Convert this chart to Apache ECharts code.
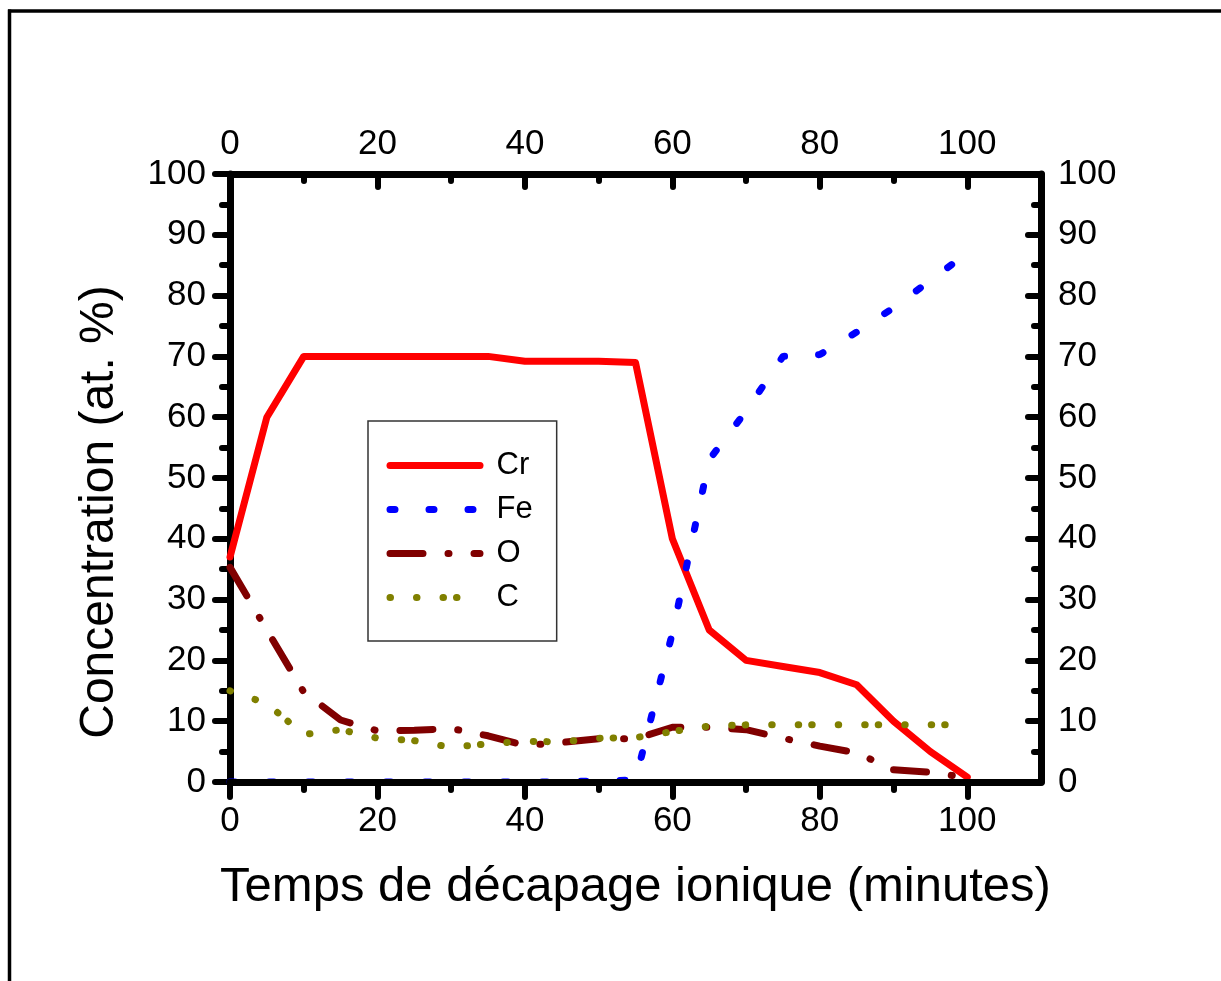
<!DOCTYPE html>
<html>
<head>
<meta charset="utf-8">
<title>Concentration vs temps de décapage</title>
<script src="https://cdn.jsdelivr.net/npm/echarts@6/dist/echarts.min.js"></script>
<style>
  html, body { margin: 0; padding: 0; background: #fff; }
  #chart { width: 1221px; height: 981px; }
</style>
</head>
<body>
<div id="chart"></div>
<script>
// Sputtering time (minutes), sampled every 5 min
const minutes = [0, 5, 10, 15, 20, 25, 30, 35, 40, 45, 50, 55, 60, 65, 70, 75, 80, 85, 90, 95, 100];

// Atomic concentrations (at. %)
const cr = [37, 60, 70, 70, 70, 70, 70, 70, 69.2, 69.2, 69.2, 69, 40, 25, 20, 19, 18, 16, 10, 5, 0.8];
const fe = [0, 0, 0, 0, 0, 0, 0, 0, 0, 0, 0.2, 0.3, 24.5, 53, 61, 70, 70.3, 74, 78, 82.5, 87];
const ox = [35.3, 25, 14.8, 10.2, 8.4, 8.5, 8.8, 7.6, 6.0, 6.5, 7.1, 7.1, 9, 9, 8.6, 7.2, 5.9, 4.8, 2, 1.6, 0.7];
const cc = [15, 12.9, 7.8, 8.6, 7.2, 6.8, 5.7, 6.3, 6.7, 6.6, 7.2, 7.3, 8.3, 9.2, 9.4, 9.4, 9.4, 9.4, 9.4, 9.4, 9.4];

const seriesNames = ['Cr', 'Fe', 'O', 'C'];

// Axis tick positions and labels
const xMajorTicks = [0, 20, 40, 60, 80, 100];
const xMinorTicks = [10, 30, 50, 70, 90];

const FONT = '"Liberation Sans", Arial, Helvetica, sans-serif';
const pairs = vals => minutes.map((m, i) => [m, vals[i]]);

const chart = echarts.init(document.getElementById('chart'), null, { renderer: 'canvas' });

const axisLine = { show: true, onZero: false, lineStyle: { color: '#000', width: 7, cap: 'round' } };
const tickStyle = { color: '#000', width: 6, cap: 'round' };
const labelStyle = { color: '#000', fontSize: 35, fontFamily: FONT };

// x axes sit above the series, y axes below
function xAxisMajor(position, inside, len, margin, extra) {
  return Object.assign({
    type: 'value', position, min: 0, max: 110, interval: 20, z: 5,
    axisLine,
    axisTick: { show: true, inside, length: len, lineStyle: tickStyle, customValues: xMajorTicks },
    axisLabel: Object.assign({ margin, customValues: xMajorTicks }, labelStyle),
    minorTick: { show: false },
    splitLine: { show: false }
  }, extra || {});
}
function xAxisMinor(position, inside, len) {
  return {
    type: 'value', position, min: 0, max: 110, interval: 20, z: 5,
    axisLine: { show: false, onZero: false },
    axisTick: { show: true, inside, length: len, lineStyle: tickStyle, customValues: xMinorTicks },
    axisLabel: { show: false },
    splitLine: { show: false }
  };
}
function yAxisDef(position, inside, len, minorLen, margin, extra) {
  return Object.assign({
    type: 'value', position, min: 0, max: 100, interval: 10, z: 1,
    axisLine,
    axisTick: { show: true, inside, length: len, lineStyle: tickStyle },
    minorTick: { show: true, splitNumber: 2, length: minorLen, lineStyle: tickStyle },
    axisLabel: Object.assign({ margin }, labelStyle),
    splitLine: { show: false }
  }, extra || {});
}

function lineSeries(name, vals, color, dash) {
  return {
    name, type: 'line', xAxisIndex: 0, yAxisIndex: 0,
    data: pairs(vals), symbol: 'none', silent: true, z: 2,
    lineStyle: { color, width: 7, type: dash, cap: 'round', join: 'round' },
    itemStyle: { color }
  };
}

chart.setOption({
  animation: false,
  backgroundColor: '#fff',
  grid: { left: 230, right: 180, top: 174, bottom: 199, containLabel: false },
  xAxis: [
    xAxisMajor('bottom', false, 15, 22, {
      name: 'Temps de décapage ionique (minutes)',
      nameLocation: 'middle', nameGap: 81,
      nameTextStyle: { color: '#000', fontSize: 49, fontFamily: FONT }
    }),
    xAxisMinor('bottom', false, 8),
    xAxisMajor('top', true, 13, 12),
    xAxisMinor('top', true, 7)
  ],
  yAxis: [
    yAxisDef('left', false, 15, 8, 24, {
      name: 'Concentration (at. %)',
      nameLocation: 'middle', nameGap: 106,
      nameTextStyle: { color: '#000', fontSize: 48, fontFamily: FONT, padding: [0, 68, 0, 0] }
    }),
    yAxisDef('right', true, 13, 7, 17)
  ],
  legend: {
    data: seriesNames,
    orient: 'vertical',
    left: 368, top: 421,
    padding: [29, 24, 28, 18.5],
    itemWidth: 90, itemHeight: 14, itemGap: 13,
    borderColor: '#333', borderWidth: 1.5, borderRadius: 0,
    backgroundColor: '#fff',
    selectedMode: false,
    itemStyle: { opacity: 0 },
    lineStyle: { width: 7 },
    textStyle: { color: '#000', fontSize: 31, lineHeight: 30, fontFamily: FONT, padding: [0, 0, 0, 11.5] }
  },
  series: [
    lineSeries('Cr', cr, '#ff0000', 'solid'),
    lineSeries('Fe', fe, '#0000ff', [5, 34]),
    lineSeries('O', ox, '#800000', [33, 25, 1, 25]),
    lineSeries('C', cc, '#808000', [0.5, 26, 0.5, 26, 0.5, 13])
  ],
  graphic: [
    { type: 'line', silent: true, shape: { x1: 9.5, y1: 9.5, x2: 9.5, y2: 990 }, style: { stroke: '#000', lineWidth: 3.5 } },
    { type: 'line', silent: true, shape: { x1: 8, y1: 11, x2: 1230, y2: 11 }, style: { stroke: '#000', lineWidth: 3.5 } }
  ]
});
</script>
</body>
</html>
